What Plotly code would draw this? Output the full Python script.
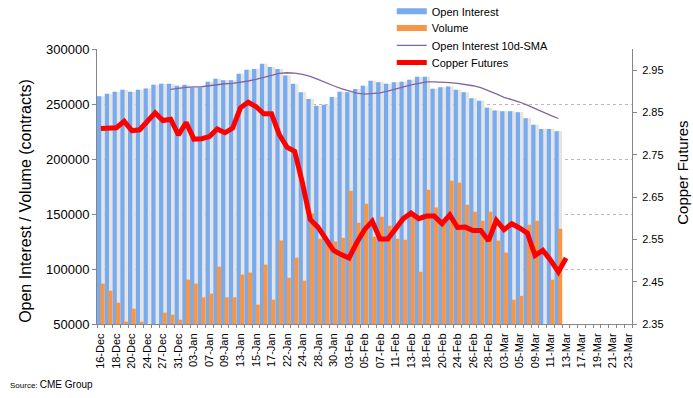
import plotly.graph_objects as go

# ---------------- data ----------------
dates = [
    "16-Dec", "17-Dec", "18-Dec", "19-Dec", "20-Dec", "23-Dec", "24-Dec", "26-Dec", "27-Dec", "30-Dec", "31-Dec",
    "02-Jan", "03-Jan", "06-Jan", "07-Jan", "08-Jan", "09-Jan", "10-Jan", "13-Jan", "14-Jan", "15-Jan", "16-Jan",
    "17-Jan", "21-Jan", "22-Jan", "23-Jan", "24-Jan", "27-Jan", "28-Jan", "29-Jan", "30-Jan", "31-Jan",
    "03-Feb", "04-Feb", "05-Feb", "06-Feb", "07-Feb", "10-Feb", "11-Feb", "12-Feb", "13-Feb", "14-Feb",
    "18-Feb", "19-Feb", "20-Feb", "21-Feb", "24-Feb", "25-Feb", "26-Feb", "27-Feb", "28-Feb",
    "02-Mar", "03-Mar", "04-Mar", "05-Mar", "06-Mar", "09-Mar", "10-Mar", "11-Mar", "12-Mar", "13-Mar",
    "16-Mar", "17-Mar", "18-Mar", "19-Mar", "20-Mar", "21-Mar", "22-Mar", "23-Mar",
]

open_interest = [
    257000, 259400, 261200, 263000, 261200, 263000, 264000, 267600, 268500, 268500,
    266700, 267600, 265000, 265000, 270300, 273000, 271500, 271500, 277600, 281200,
    281800, 286700, 283600, 281800, 275800, 268500, 260600, 254500, 248500, 249400,
    256400, 261200, 260600, 263600, 266700, 271200, 269700, 268500, 269700, 270300,
    272100, 274800, 274800, 263900, 265200, 265800, 263000, 260600, 255200, 253000,
    246700, 244200, 243300, 243300, 242400, 237000, 231200, 227300, 227300, 225200,
]

volume = [
    86700, 80300, 69400, 52100, 63900, 52100, 40000, 40000, 60300, 58500,
    53900, 90300, 86700, 74300, 77600, 102100, 74300, 74300, 94900, 96700,
    67600, 104000, 72100, 125800, 92100, 110300, 89400, 150500, 127600, 123000,
    124900, 128500, 171200, 142100, 159400, 129400, 147600, 139400, 127600, 126700,
    148500, 97500, 172000, 155800, 142100, 180300, 178500, 158500, 152100, 143900,
    152100, 125800, 114900, 72000, 75600, 140200, 143900, None, 90300, 136600,
]

oi_sma10 = [
    263300, 264300, 265100, 265500, 265700, 266600, 267600, 268400, 268800, 269700,
    270900, 272400, 274400, 276200, 277900, 278400, 278000, 276900, 275200, 272300,
    269100, 266600, 264000, 261700, 259900, 259000, 259300, 260200, 261600, 263700,
    265800, 267400, 268700, 270100, 270200, 270000, 269500, 268800, 268000, 266600,
    264800, 262300, 259200, 256100, 254000, 251800, 248900, 245700, 242400, 239600,
    236800,
]

copper = [
    2.812, 2.813, 2.814, 2.829, 2.807, 2.809, 2.829, 2.849, 2.831, 2.834,
    2.797, 2.826, 2.787, 2.788, 2.793, 2.811, 2.802, 2.813, 2.861, 2.874,
    2.864, 2.847, 2.847, 2.798, 2.768, 2.758, 2.683, 2.597, 2.579, 2.549,
    2.524, 2.514, 2.506, 2.542, 2.573, 2.593, 2.551, 2.551, 2.577, 2.599,
    2.612, 2.599, 2.605, 2.605, 2.587, 2.608, 2.578, 2.579, 2.571, 2.571,
    2.547, 2.595, 2.573, 2.587, 2.577, 2.565, 2.512, 2.524, 2.501, 2.473,
    2.506,
]

left_ticks = [50000, 100000, 150000, 200000, 250000, 300000]
right_ticks = [2.35, 2.45, 2.55, 2.65, 2.75, 2.85, 2.95]

# ---------------- positions derived from categories ----------------
pos = list(range(len(dates)))
x_oi = pos[:len(open_interest)]
x_sma = pos[len(open_interest) - len(oi_sma10):len(open_interest)]
x_cu = pos[:len(copper)]

FONT = "Liberation Sans, Arial, sans-serif"
BLUE = "#78aaee"
ORANGE = "#f79646"
AXIS = "#868686"

fig = go.Figure()

# soft shadow behind the open-interest bars
fig.add_bar(x=x_oi, y=open_interest, width=0.9, offset=-0.42,
            marker=dict(color="#e4e4e4", line=dict(width=0)),
            showlegend=False, hoverinfo="skip")
fig.add_bar(x=x_oi, y=open_interest, width=0.55, offset=-0.5, name="Open Interest",
            marker=dict(color=BLUE, line=dict(width=0)), showlegend=False)
fig.add_bar(x=x_oi, y=volume, width=0.55, offset=-0.05, name="Volume",
            marker=dict(color=ORANGE, line=dict(width=0)), showlegend=False)
fig.add_scatter(x=x_sma, y=oi_sma10, mode="lines", name="Open Interest 10d-SMA",
                line=dict(color="#8064a2", width=1.3), legend="legend3")
fig.add_scatter(x=x_cu, y=copper, mode="lines", name="Copper Futures", yaxis="y2",
                line=dict(color="#ff0000", width=5), legend="legend4")

# legend swatches for the bar series
fig.add_scatter(x=[None], y=[None], mode="lines", name="Open Interest",
                line=dict(color=BLUE, width=6), legend="legend")
fig.add_scatter(x=[None], y=[None], mode="lines", name="Volume",
                line=dict(color=ORANGE, width=6), legend="legend2")

leg = dict(bgcolor="rgba(0,0,0,0)", borderwidth=0, font=dict(family=FONT, size=11, color="black"),
           xanchor="left", yanchor="middle", x=0.551)

fig.update_layout(
    width=693, height=398,
    margin=dict(l=97, r=61, t=49, b=74, autoexpand=False),
    paper_bgcolor="white", plot_bgcolor="white",
    barmode="overlay",
    font=dict(family=FONT, color="black"),
    legend=dict(leg, y=1.137),
    legend2=dict(leg, y=1.076),
    legend3=dict(leg, y=1.013),
    legend4=dict(leg, y=0.951),
    xaxis=dict(
        range=[-0.5, 68.5], tickmode="array", tickvals=pos[::2], ticktext=dates[::2],
        tickangle=-90, tickfont=dict(size=11, family=FONT, color="black"),
        ticks="", showline=True, linecolor=AXIS, linewidth=1, showgrid=False, zeroline=False,
        ticklabelstandoff=4, automargin=False,
        minor=dict(ticks="outside", tickmode="linear", tick0=-0.5, dtick=1, ticklen=3,
                   tickcolor=AXIS, showgrid=False),
    ),
    yaxis=dict(
        range=[50000, 300000], tickmode="array", tickvals=left_ticks, tickformat="d",
        tickfont=dict(size=13, family=FONT, color="black"), automargin=False,
        showline=True, linecolor=AXIS, ticks="outside", ticklen=4, tickcolor=AXIS,
        showgrid=True, gridcolor="#b8b8b8", griddash="3px,3px", gridwidth=1, zeroline=False,
    ),
    yaxis2=dict(
        overlaying="y", side="right", range=[2.35, 3.0], tickmode="array",
        tickvals=right_ticks, tickformat=".2f", automargin=False,
        tickfont=dict(size=11, family=FONT, color="black"),
        showline=True, linecolor=AXIS, ticks="outside", ticklen=4, tickcolor=AXIS,
        showgrid=False, zeroline=False, ticklabelstandoff=3,
    ),
    shapes=[
        # white legend box hiding the gridline behind the legend
        dict(type="rect", xref="paper", yref="paper", x0=0.52, x1=0.884, y0=0.92, y1=1.005,
             fillcolor="white", line=dict(width=0), layer="above"),
    ],
    annotations=[
        dict(text="Open Interest / Volume (contracts)", xref="paper", yref="paper",
             x=-0.1336, y=0.446, xanchor="center", yanchor="middle", textangle=-90,
             showarrow=False, font=dict(size=16, family=FONT, color="black")),
        dict(text="Copper Futures", xref="paper", yref="paper",
             x=1.0953, y=0.550, xanchor="center", yanchor="middle", textangle=-90,
             showarrow=False, font=dict(size=15, family=FONT, color="black")),
        dict(text="<span style='font-size:8px'>Source: </span>CME Group", xref="paper", yref="paper",
             x=-0.166, y=-0.221, xanchor="left", yanchor="middle",
             showarrow=False, font=dict(size=10, family=FONT, color="black")),
    ],
)

# remove the page's default body margin so the figure fills the window exactly
fig.write_html(
    "out.html",
    config={"displayModeBar": False},
    post_script="document.body.style.margin='0px';document.body.style.overflow='hidden';",
)
